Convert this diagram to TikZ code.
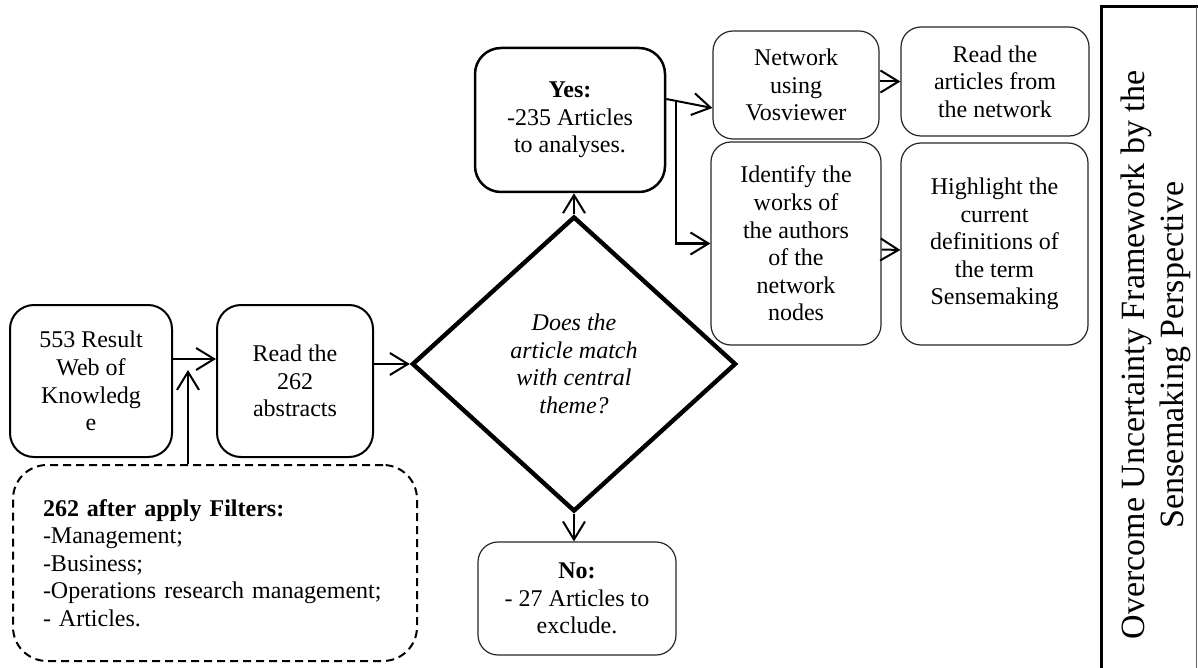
\documentclass[tikz,border=0pt]{standalone}
\usepackage{fontspec}
\setmainfont{Liberation Serif}
\usetikzlibrary{arrows.meta,shapes.geometric,calc}

\begin{document}
\begin{tikzpicture}[x=0.5pt,y=-0.5pt,
  txt/.style={font=\fontsize{12}{13.8}\selectfont, align=center, inner sep=0pt},
  heavybox/.style={txt, draw, line width=1pt, rounded corners=12pt},
  lightbox/.style={txt, draw=black!85, line width=0.6pt, rounded corners=10pt},
  arr/.style={line width=1pt, -{Straight Barb[length=9pt,width=11pt]}},
]
\useasboundingbox (0,0) rectangle (1198,668);

% search and screening
\node[heavybox, minimum width=81pt, minimum height=76pt] (res) at (91,381)
  {553 Result\\Web of\\Knowledg\\e};
\node[heavybox, minimum width=78pt, minimum height=76pt] (read) at (295,381)
  {Read the\\262\\abstracts};
\node[txt, draw, line width=1pt, dash pattern=on 4pt off 2.5pt, rounded corners=17pt,
      align=left, text width=172pt, inner xsep=15pt, minimum height=98pt] (filt) at (215,563)
  {\textbf{262 after apply Filters:}\\-Management;\\-Business;\\-Operations research management;\\- Articles.};

% decision
\node[draw, diamond, line width=2.2pt, minimum width=162pt, minimum height=147.5pt,
      inner sep=0pt, align=center, font=\fontsize{12}{13.8}\selectfont\itshape] (dia) at (574,364)
  {Does the\\article match\\with central\\theme?};
\node[txt, draw, line width=1.25pt, rounded corners=13pt, minimum width=95pt, minimum height=72pt] (yes) at (570,120)
  {\textbf{Yes:}\\-235 Articles\\to analyses.};
\node[lightbox, minimum width=99pt, minimum height=56.5pt] (no) at (577,598.5)
  {\textbf{No:}\\- 27 Articles to\\exclude.};

% analysis steps
\node[lightbox, minimum width=83pt, minimum height=54pt] (net) at (796,85)
  {Network\\using\\Vosviewer};
\node[lightbox, minimum width=94pt, minimum height=54.5pt] (rart) at (995,81.5)
  {Read the\\articles from\\the network};
\node[lightbox, minimum width=85pt, minimum height=101.5pt] (ident) at (796,243.5)
  {Identify the\\works of\\the authors\\of the\\network\\nodes};
\node[lightbox, minimum width=93.5pt, minimum height=101pt] (high) at (994.5,244)
  {Highlight the\\current\\definitions of\\the term\\Sensemaking};

% outcome column
\draw[line width=1.5pt] (1101,668) -- (1101,7) -- (1198,7);
\draw[line width=0.5pt, black!60] (1196,7) -- (1196,668);
\node[font=\fontsize{17}{19.5}\selectfont, align=center, rotate=90, inner sep=0pt] (side) at (1156,355)
  {Overcome Uncertainty Framework by the\\Sensemaking Perspective};

% connectors
\coordinate (fin) at (188,370);
\coordinate (bx) at (676,102);
\draw[arr] ([yshift=11pt]res.east) -- ([yshift=11pt]read.west);
\draw[arr] (filt.north -| fin) -- (fin);
\draw[arr] (read.east |- dia.west) -- (dia.west);
\draw[arr] (dia.north) -- (dia.north |- yes.south);
\draw[arr] (dia.south) -- (dia.south |- no.north);
\draw[arr] ([yshift=10.5pt]yes.east) -- ([yshift=-11.5pt]net.west);
\draw[arr] (bx) |- (ident.west);
\draw[arr] (rart.west -| net.east) -- (rart.west);
\draw[arr] ([yshift=-3pt]ident.east) -- ([yshift=-3pt]high.west);
\end{tikzpicture}
\end{document}
